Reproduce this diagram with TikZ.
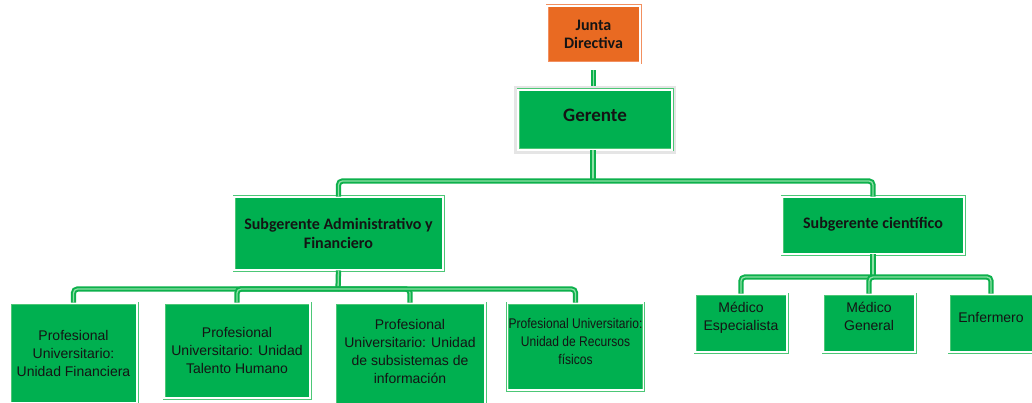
\documentclass[tikz,border=0pt]{standalone}
\usepackage{fontspec}
\setmainfont{Liberation Sans}
\newfontfamily\calib{Carlito}
\definecolor{boxgreen}{HTML}{00B050}
\definecolor{boxedge}{HTML}{4CC776}
\definecolor{linegreen}{HTML}{0DB04C}
\definecolor{linelight}{HTML}{8FE0A6}
\definecolor{orangefill}{HTML}{E96A22}
\definecolor{orangeedge}{HTML}{F29060}
\tikzset{
  gbox/.style={draw=boxedge, double=white, double distance=1.2pt, line width=0.9pt,
    fill=boxgreen, inner sep=1pt, align=center, text=black!92,
    font=\fontsize{14}{18}\selectfont},
  tbox/.style={gbox, font=\calib\bfseries\fontsize{16}{18.5}\selectfont},
  jbox/.style={tbox, draw=orangeedge, fill=orangefill},
  conn/.style={draw=linegreen, double=linelight, double distance=1.3pt,
    line width=2pt, rounded corners=4pt},
}
\begin{document}
\begin{tikzpicture}[x=1pt,y=-1pt]
\useasboundingbox (0,0) rectangle (1032,403);
% top
\node[jbox, minimum width=93, minimum height=57] (junta) at (593.5,34.5) {Junta\\Directiva};
\node[tbox, font=\calib\bfseries\fontsize{19}{22}\selectfont, text depth=9pt, minimum width=154, minimum height=60,
  preaction={draw=black!10, line width=8pt, rounded corners=2pt}] (ger) at (595,120) {Gerente};
% second level
\node[tbox, minimum width=209, minimum height=73] (sa) at (338.5,233.5) {Subgerente Administrativo y\\Financiero};
\node[tbox, minimum width=182, minimum height=57, text depth=6pt] (sc) at (873,225.5) {Subgerente científico};
% left bottom
\node[gbox, minimum width=127, minimum height=100] (b1) at (73.5,353) {Profesional\\Universitario:\\Unidad Financiera};
\node[gbox, minimum width=146, minimum height=95] (b2) at (237,350.5) {Profesional\\Universitario: Unidad\\Talento Humano};
\node[gbox, minimum width=150, minimum height=107, text depth=10pt] (b3) at (410,356.5) {Profesional\\Universitario: Unidad\\de subsistemas  de\\información};
\node[gbox, font=\fontsize{14}{18}\selectfont\addfontfeature{FakeStretch=0.86}, text depth=10pt, minimum width=129, minimum height=87] (b4) at (575.5,346.5) {Profesional Universitario:\\Unidad de Recursos\\físicos};
% right bottom
\node[gbox, minimum width=92, minimum height=58, text depth=14pt] (me) at (741,323) {Médico\\Especialista};
\node[gbox, minimum width=92, minimum height=58, text depth=14pt] (mg) at (869,323) {Médico\\General};
\node[gbox, minimum width=84, minimum height=58, text depth=12pt] (enf) at (991,323) {Enfermero};
% connectors
\draw[conn, shorten <=7pt, shorten >=4pt] (junta.south) -- (ger.north -| junta.south);
\coordinate (bus1) at (593,181);
\draw[conn] (ger.south -| bus1) -- (bus1);
\draw[conn] (bus1) -| (sa.north);
\draw[conn] (bus1) -| (sc.north);
\coordinate (bus2) at (338,289);
\draw[conn] (sa.south) -- (bus2);
\draw[conn] (bus2) -| (b1.north);
\draw[conn] (bus2) -| (b2.north);
\draw[conn] (bus2) -| (b3.north);
\draw[conn] (bus2) -| (b4.north);
\coordinate (bus3) at (873,277);
\draw[conn] (sc.south) -- (bus3);
\draw[conn] (bus3) -| (me.north);
\draw[conn] (bus3) -| (mg.north);
\draw[conn] (bus3) -| (enf.north);
\end{tikzpicture}
\end{document}
